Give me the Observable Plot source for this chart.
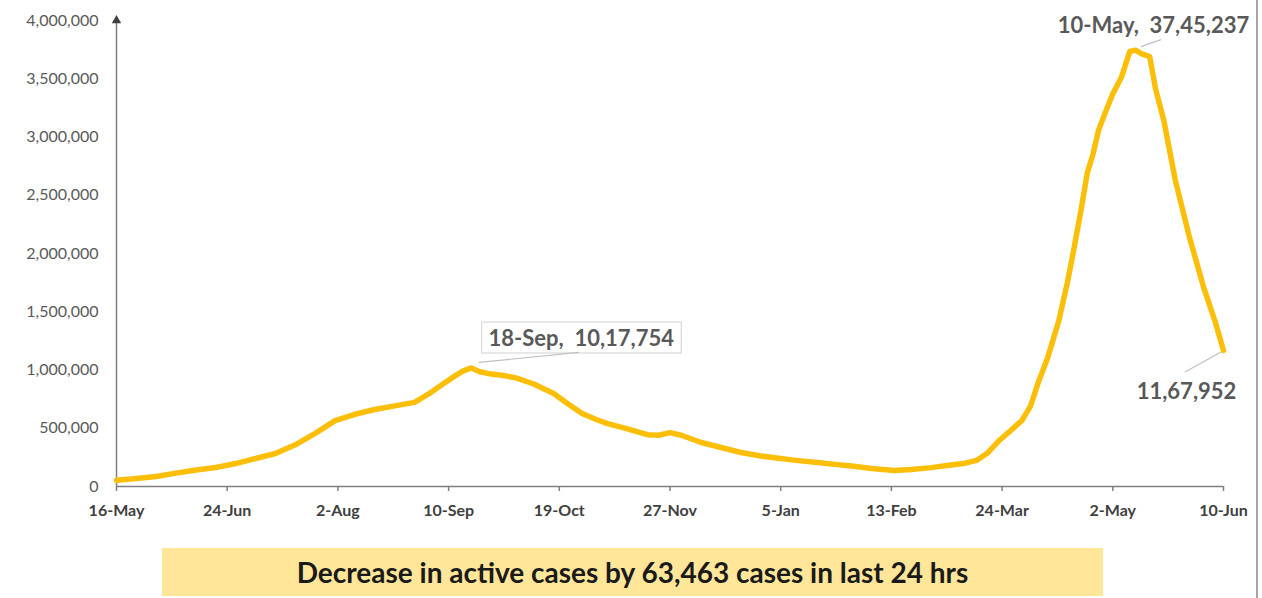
<!DOCTYPE html>
<html>
<head>
<meta charset="utf-8">
<script src="https://cdn.jsdelivr.net/npm/d3@7"></script>
<script src="https://cdn.jsdelivr.net/npm/@observablehq/plot@0.6"></script>
<style>
  html, body { margin: 0; padding: 0; background: #fff; }
  #wrap { position: relative; width: 1262px; height: 598px; overflow: hidden; font-family: Lato, "Open Sans", sans-serif; }
  #frame { position: absolute; left: 1256px; top: 0; width: 2px; height: 598px; background: #a6a6a6; }
  #caption { position: absolute; left: 162px; top: 548px; width: 941px; height: 48px; background: #FFE699;
             display: flex; align-items: center; justify-content: center;
             font-family: Lato, sans-serif; font-weight: bold; font-size: 28px; color: #1a1a1a; }
</style>
</head>
<body>
<div id="wrap">
  <div id="chart"></div>
  <div id="caption"></div>
  <div id="frame"></div>
</div>
<script>
// ---- Data ----
const dates = [
  "2020-05-16","2020-05-23","2020-05-30","2020-06-06","2020-06-13","2020-06-20","2020-06-27",
  "2020-07-04","2020-07-11","2020-07-18","2020-07-25","2020-08-01","2020-08-08","2020-08-15",
  "2020-08-22","2020-08-25","2020-08-29","2020-09-03","2020-09-08","2020-09-12","2020-09-15",
  "2020-09-18","2020-09-21","2020-09-25","2020-09-30","2020-10-04","2020-10-10","2020-10-17",
  "2020-10-22","2020-10-27","2020-11-01","2020-11-05","2020-11-12","2020-11-19","2020-11-23",
  "2020-11-27","2020-12-01","2020-12-08","2020-12-15","2020-12-22","2020-12-29","2021-01-05",
  "2021-01-12","2021-01-18","2021-01-24","2021-01-30","2021-02-06","2021-02-14","2021-02-20",
  "2021-02-27","2021-03-06","2021-03-11","2021-03-15","2021-03-19","2021-03-23","2021-03-27",
  "2021-03-31","2021-04-03","2021-04-06","2021-04-09","2021-04-13","2021-04-16","2021-04-18",
  "2021-04-21","2021-04-23","2021-04-25","2021-04-27","2021-04-30","2021-05-02","2021-05-05",
  "2021-05-08","2021-05-10","2021-05-12","2021-05-15","2021-05-17","2021-05-20","2021-05-24",
  "2021-05-29","2021-06-03","2021-06-07","2021-06-10"
];
const activeCases = [
  53000, 69000, 86000, 115000, 141000, 163000, 197000,
  240000, 283000, 358000, 456000, 565000, 620000, 661000,
  692000, 705000, 722000, 795000, 880000, 945000, 990000,
  1017754, 985000, 965000, 950000, 930000, 880000, 798000,
  710000, 626000, 575000, 540000, 495000, 445000, 440000,
  462000, 440000, 378000, 335000, 292000, 262000, 240000,
  220000, 206000, 190000, 176000, 155000, 138000, 145000,
  162000, 185000, 200000, 224000, 290000, 395000, 480000,
  567000, 690000, 910000, 1100000, 1425000, 1750000, 2000000,
  2400000, 2690000, 2850000, 3060000, 3250000, 3370000, 3510000,
  3735000, 3745237, 3715000, 3690000, 3420000, 3140000, 2630000,
  2140000, 1710000, 1420000, 1167952
];
const xTickLabels = ["2020-05-16","2020-06-24","2020-08-02","2020-09-10","2020-10-19","2020-11-27",
                     "2021-01-05","2021-02-13","2021-03-24","2021-05-02","2021-06-10"];
const yTickValues = [0, 500000, 1000000, 1500000, 2000000, 2500000, 3000000, 3500000, 4000000];
const annDates  = ["2020-09-18", "2021-05-10", "2021-06-10"];
const annValues = [1017754, 3745237, 1167952];
const annLabels = ["18-Sep,\u00a0 10,17,754", "10-May,\u00a0 37,45,237", "11,67,952"];
const captionText = "Decrease in active cases by 63,463 cases in last 24 hrs";

// ---- Build ----
const parse = d3.utcParse("%Y-%m-%d");
const data = dates.map((d, i) => ({date: parse(d), value: activeCases[i]}));
const xTicks = xTickLabels.map(parse);
const start = parse(dates[0]), end = parse(dates[dates.length - 1]);
const ann = annDates.map((d, i) => ({date: parse(d), value: annValues[i], label: annLabels[i]}));

// style offsets for annotations (pixels): text offset, leader start offset, leader end offset
const annStyle = [
  {dx: 110, dy: -29, l1: [8, -5], l2: [108, -15], boxed: true},
  {dx: 18, dy: -24, l1: [6, -3], l2: [26, -10], boxed: false},
  {dx: -37, dy: 42, l1: [-2, 2], l2: [-38, 22], boxed: false}
];

const axisColor = "#7f7f7f";
const plot = Plot.plot({
  width: 1262,
  height: 540,
  marginLeft: 116,
  marginRight: 39,
  marginTop: 20,
  marginBottom: 54,
  style: {fontFamily: "Lato, sans-serif", background: "white", overflow: "visible"},
  x: {type: "utc", domain: [start, end]},
  y: {domain: [0, 4000000]},
  marks: [
    Plot.axisY({ticks: yTickValues, tickSize: 0, tickPadding: 18, tickFormat: d3.format(","),
                fontSize: 16, fill: "#595959", label: null}),
    Plot.axisX({ticks: xTicks, tickSize: 5, tickPadding: 13, tickFormat: d3.utcFormat("%-d-%b"),
                fontSize: 16, fontWeight: "bold", fill: "#404040", stroke: axisColor, strokeWidth: 1.5, label: null}),
    Plot.ruleX([start], {y1: 0, y2: 4000000, stroke: axisColor, strokeWidth: 1.5}),
    Plot.dot([{date: start, value: 4000000}], {x: "date", y: "value", symbol: "triangle", r: 3.5, fill: "#404040", stroke: null}),
    Plot.line(data, {x: "date", y: "value", stroke: "#FBBF0A", strokeWidth: 5.5, strokeLinejoin: "round", strokeLinecap: "round"}),
    Plot.ruleY([0], {stroke: axisColor, strokeWidth: 1.5}),
    ...ann.map((a, i) => Plot.text([a], {x: "date", y: "value", text: "label", dx: annStyle[i].dx, dy: annStyle[i].dy,
        fontSize: 22, fontWeight: "bold", fill: "#595959"}))
  ]
});
document.getElementById("chart").appendChild(plot);
document.getElementById("caption").textContent = captionText;

// leader lines and label box, positioned through the plot's scales
const sx = plot.scale("x"), sy = plot.scale("y");
const svg = d3.select(plot);
const annTextNodes = svg.selectAll('g[aria-label="text"] text').nodes();
ann.forEach((a, i) => {
  const st = annStyle[i];
  const px = sx.apply(a.date), py = sy.apply(a.value);
  if (st.boxed) {
    const t = annTextNodes[i];
    if (t) {
      const b = t.getBBox();
      d3.select(t.parentNode).insert("rect", "text")
        .attr("x", b.x - 7).attr("y", b.y - 2).attr("width", b.width + 14).attr("height", b.height + 4)
        .attr("fill", "white").attr("stroke", "#d9d9d9").attr("stroke-width", 1.2)
        .attr("transform", t.getAttribute("transform"));
    }
  }
  svg.append("line")
    .attr("x1", px + st.l1[0]).attr("y1", py + st.l1[1])
    .attr("x2", px + st.l2[0]).attr("y2", py + st.l2[1])
    .attr("stroke", "#bfbfbf").attr("stroke-width", 1.2);
});
</script>
</body>
</html>
